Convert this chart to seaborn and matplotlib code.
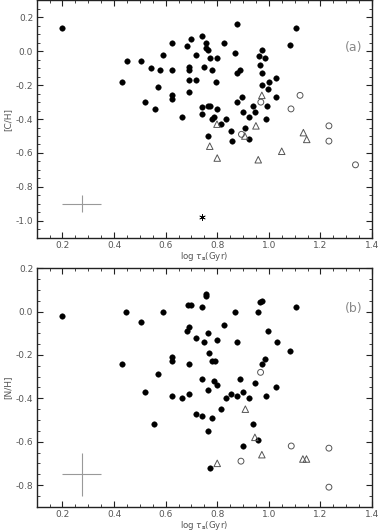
import numpy as np
import pandas as pd
import matplotlib
matplotlib.use("Agg")
import matplotlib.pyplot as plt
import seaborn as sns
from matplotlib.ticker import MultipleLocator

# ---- panel (a): [C/H] vs log tau_s ----
c_fill_x = [0.20, 0.43, 0.45, 0.505, 0.52, 0.545, 0.557, 0.569, 0.58, 0.591,
            0.623, 0.623, 0.623, 0.623, 0.663, 0.681, 0.699, 0.716, 0.691, 0.691,
            0.691, 0.716, 0.691, 0.875, 1.107, 0.741, 0.756, 0.827, 0.757, 0.764,
            1.084, 0.772, 0.80, 0.87, 0.96, 0.973, 0.984, 0.748, 0.779, 0.964,
            0.973, 0.888, 0.876, 0.794, 0.973, 0.999, 1.029, 0.996, 1.026, 0.897,
            0.875, 0.993, 0.94, 0.741, 0.764, 0.772, 0.80, 0.741, 0.898, 0.945,
            0.924, 0.988, 0.779, 0.787, 0.834, 0.814, 0.909, 0.852, 0.764, 0.858,
            0.923]
c_fill_y = [0.14, -0.18, -0.06, -0.06, -0.30, -0.10, -0.34, -0.21, -0.11, -0.02,
            0.05, -0.11, -0.26, -0.28, -0.39, 0.03, 0.07, -0.02, -0.09, -0.11,
            -0.17, -0.17, -0.24, 0.16, 0.14, 0.09, 0.05, 0.05, 0.02, 0.01,
            0.04, -0.04, -0.04, -0.01, -0.03, 0.01, -0.04, -0.09, -0.11, -0.08,
            -0.13, -0.11, -0.13, -0.18, -0.20, -0.18, -0.16, -0.22, -0.27, -0.27,
            -0.30, -0.32, -0.32, -0.33, -0.32, -0.32, -0.34, -0.37, -0.36, -0.36,
            -0.39, -0.40, -0.40, -0.39, -0.40, -0.43, -0.45, -0.47, -0.50, -0.53,
            -0.52]
c_tri_x = [0.973, 0.799, 0.95, 0.907, 1.134, 1.147, 0.771, 0.80, 0.959, 1.05]
c_tri_y = [-0.26, -0.43, -0.44, -0.50, -0.48, -0.52, -0.56, -0.63, -0.64, -0.59]
c_circ_x = [0.969, 1.121, 1.086, 0.894, 1.233, 1.233, 1.336]
c_circ_y = [-0.30, -0.26, -0.34, -0.49, -0.44, -0.53, -0.67]
c_star_x = [0.741]
c_star_y = [-0.98]

# ---- panel (b): [N/H] vs log tau_s ----
n_fill_x = [0.20, 0.447, 0.505, 0.591, 0.432, 0.623, 0.623, 0.569, 0.519, 0.623,
            0.662, 0.556, 0.681, 0.689, 0.687, 0.698, 0.716, 0.69, 0.69, 0.716,
            0.756, 0.756, 0.741, 0.87, 0.959, 0.966, 0.973, 1.106, 0.826, 0.764,
            0.748, 0.80, 0.876, 0.997, 1.03, 1.083, 0.77, 0.779, 0.792, 0.973,
            0.984, 0.741, 0.786, 0.80, 0.764, 0.888, 0.945, 1.026, 0.852, 0.898,
            0.875, 0.924, 0.834, 0.988, 0.742, 0.779, 0.813, 0.764, 0.94, 0.958,
            0.90, 0.772]
n_fill_y = [-0.02, 0.00, -0.05, 0.00, -0.24, -0.21, -0.23, -0.29, -0.37, -0.39,
            -0.40, -0.52, -0.09, -0.07, 0.03, 0.03, -0.12, -0.24, -0.38, -0.47,
            0.08, 0.07, 0.02, 0.00, 0.00, 0.045, 0.05, 0.02, -0.06, -0.10,
            -0.14, -0.13, -0.14, -0.09, -0.14, -0.18, -0.19, -0.23, -0.23, -0.24,
            -0.22, -0.31, -0.32, -0.34, -0.36, -0.31, -0.33, -0.35, -0.38, -0.37,
            -0.39, -0.40, -0.40, -0.39, -0.48, -0.49, -0.45, -0.55, -0.52, -0.59,
            -0.62, -0.72]
n_tri_x = [0.909, 0.946, 0.973, 0.80, 1.132, 1.146]
n_tri_y = [-0.45, -0.58, -0.66, -0.70, -0.68, -0.68]
n_circ_x = [0.968, 0.892, 1.087, 1.233, 1.233]
n_circ_y = [-0.28, -0.69, -0.62, -0.63, -0.81]

# typical error bars (centre, half-widths)
c_err = (0.275, -0.90, 0.075, 0.05)
n_err = (0.275, -0.75, 0.075, 0.10)

sns.set_style("ticks")
plt.rcParams['font.family'] = ['DejaVu Sans']
plt.rcParams['axes.unicode_minus'] = True

fig = plt.figure(figsize=(3.79, 5.31), dpi=100)
ax1 = fig.add_axes([0.0968, 0.5524, 0.8847, 0.4467])
ax2 = fig.add_axes([0.0968, 0.0458, 0.8847, 0.4489])

ink = '#222222'
soft = '#555555'


def draw_panel(ax, fx, fy, tx, ty, ox, oy, err):
    sns.scatterplot(x=fx, y=fy, ax=ax, s=16, color='black', marker='o',
                    edgecolor='black', linewidth=0.3, legend=False)
    sns.scatterplot(x=tx, y=ty, ax=ax, s=22, marker='^', facecolors='none',
                    edgecolor=soft, linewidth=0.7, legend=False)
    sns.scatterplot(x=ox, y=oy, ax=ax, s=18, marker='o', facecolors='none',
                    edgecolor=soft, linewidth=0.7, legend=False)
    x0, y0, dx, dy = err
    ax.errorbar([x0], [y0], xerr=[dx], yerr=[dy], fmt='none',
                ecolor='#999999', elinewidth=0.8, capsize=0)
    ax.set_xlim(0.1, 1.4)
    ax.xaxis.set_major_locator(MultipleLocator(0.2))
    ax.xaxis.set_minor_locator(MultipleLocator(0.05))
    ax.yaxis.set_major_locator(MultipleLocator(0.2))
    ax.yaxis.set_minor_locator(MultipleLocator(0.05))
    ax.tick_params(which='both', direction='in', top=True, right=True,
                   labelsize=6.5, labelcolor=soft, color=ink)
    ax.tick_params(which='major', length=4, width=0.8, pad=2.5)
    ax.tick_params(which='minor', length=2, width=0.6)
    for sp in ax.spines.values():
        sp.set_linewidth(1.0)
        sp.set_color(ink)
    ax.xaxis.set_major_formatter(matplotlib.ticker.FormatStrFormatter('%.1f'))
    ax.yaxis.set_major_formatter(matplotlib.ticker.FormatStrFormatter('%.1f'))
    ax.set_xlabel(r'log $\tau_{\mathbf{s}}$(Gyr)', fontsize=6.2, color=soft, labelpad=0)


draw_panel(ax1, c_fill_x, c_fill_y, c_tri_x, c_tri_y, c_circ_x, c_circ_y, c_err)
sns.scatterplot(x=c_star_x, y=c_star_y, ax=ax1, s=18, marker=(6, 2, 0),
                color='black', linewidth=0.5, legend=False)
ax1.set_ylim(-1.1, 0.3)
ax1.set_ylabel('[C/H]', fontsize=6.5, color=soft, labelpad=2)
ax1.text(1.33, 0.02, '(a)', fontsize=9, color='#888888', ha='center', va='center')

draw_panel(ax2, n_fill_x, n_fill_y, n_tri_x, n_tri_y, n_circ_x, n_circ_y, n_err)
ax2.set_ylim(-0.9, 0.2)
ax2.set_ylabel('[N/H]', fontsize=6.5, color=soft, labelpad=2)
ax2.text(1.33, 0.015, '(b)', fontsize=9, color='#888888', ha='center', va='center')

fig.savefig('out.png', dpi=100)
